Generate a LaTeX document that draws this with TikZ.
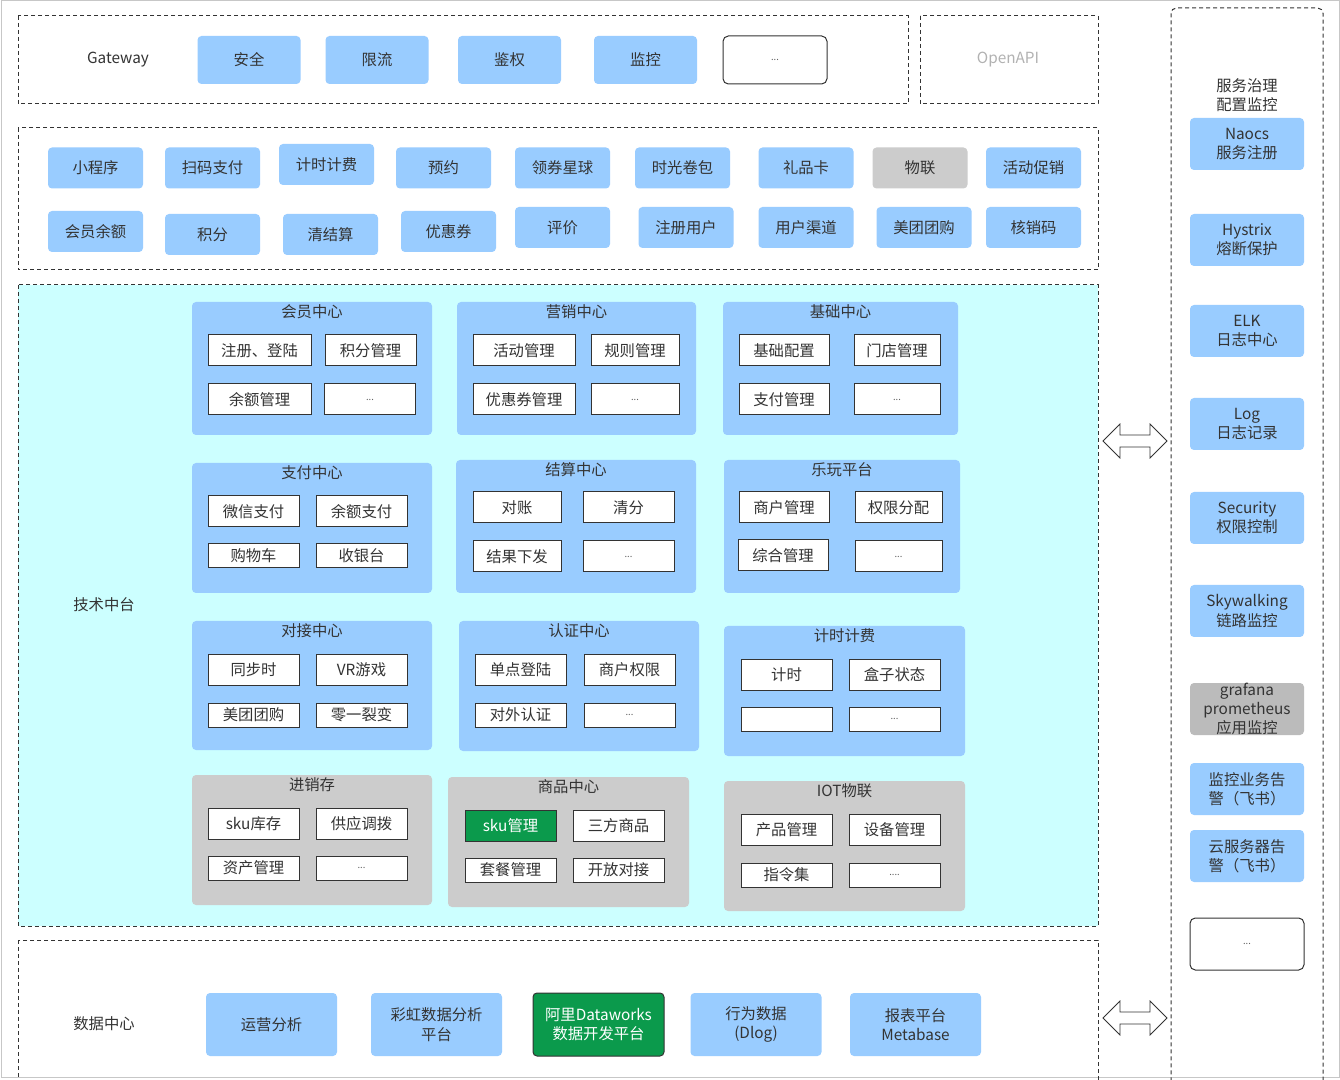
\documentclass[tikz,border=0pt]{standalone}
\usepackage{fontspec}
\setmainfont{Noto Sans CJK SC}
\usepackage{xcolor}
\usetikzlibrary{positioning}
\definecolor{modblue}{HTML}{99CCFF}
\definecolor{techcyan}{HTML}{CCFFFF}
\definecolor{modgray}{HTML}{CCCCCC}
\definecolor{monigray}{HTML}{BBBBBB}
\definecolor{okgreen}{HTML}{0B9A4C}
\definecolor{ink}{HTML}{333333}

\begin{document}
\begin{tikzpicture}[
    x=0.75pt, y=-0.75pt, line width=0.75pt,
    every node/.style={font=\fontsize{11.5}{14.5}\selectfont, text=ink, inner sep=0pt, align=center},
    wh/.style 2 args={minimum width=#1*0.75pt, minimum height=#2*0.75pt},
    frame/.style={draw=ink, dash pattern=on 3pt off 2.25pt},
    svc/.style={fill=modblue, rounded corners=3pt},
    gwsvc/.style={svc, wh={103}{48}},
    topsvc/.style={svc, wh={95}{41}},
    sidesvc/.style={svc, wh={114}{52}},
    datasvc/.style={svc, wh={131}{63}},
    panel/.style={fill=modblue, rounded corners=3pt},
    graypanel/.style={fill=modgray, rounded corners=3pt},
    item/.style={draw=ink, fill=white, wh={91}{31}},
    flatitem/.style={item, wh={91}{24}},
    more/.style={font=\fontsize{7}{8}\selectfont, text=ink!80},
    blank/.style={draw=ink, fill=white, rounded corners=4pt}
]
    \useasboundingbox (0,0) rectangle (1340,1080);
    \clip (0,0) rectangle (1340,1080);
    \fill[white] (0,0) rectangle (1340,1080);
    \draw[black!22] (1,1) rectangle (1339,1077);

    % layers
    \draw[frame] (18,16) rectangle (908,104);
    \draw[frame] (920,16) rectangle (1098,104);
    \draw[frame] (18,128) rectangle (1098,270);
    \draw[frame, fill=techcyan] (18,285) rectangle (1098,926);
    \draw[frame] (18,940) rectangle (1098,1100);
    \draw[frame, rounded corners=4pt] (1171,8) rectangle (1323,1100);

    % gateway
    \node (gateway) at (118,60) {Gateway};
    \node[gwsvc] (safe) at (249,60) {安全};
    \node[gwsvc] (limit) at (377,60) {限流};
    \node[gwsvc] (auth) at (509.5,60) {鉴权};
    \node[gwsvc] (watch) at (645.5,60) {监控};
    \node[blank, wh={104}{48}, more] (gwmore) at (775,60) {...};
    \node[text=black!30] (openapi) at (1008,60) {OpenAPI};

    % business entries
    \node[topsvc] (mini) at (95.5,168) {小程序};
    \node[topsvc] (scanpay) at (212.5,168) {扫码支付};
    \node[topsvc] (timing) at (326.5,164.5) {计时计费};
    \node[topsvc] (booking) at (443.5,168) {预约};
    \node[topsvc] (coupplanet) at (562.5,168) {领券星球};
    \node[topsvc] (timepack) at (682.5,168) {时光卷包};
    \node[topsvc] (giftcard) at (806,168) {礼品卡};
    \node[topsvc, fill=modgray] (iotentry) at (920,168) {物联};
    \node[topsvc] (promo) at (1033.5,168) {活动促销};
    \node[topsvc] (balance) at (95.5,231.5) {会员余额};
    \node[topsvc] (points) at (212.5,234.5) {积分};
    \node[topsvc] (clearing) at (330.5,234.5) {清结算};
    \node[topsvc] (coupon) at (448.5,231.5) {优惠券};
    \node[topsvc] (review) at (562.5,227.5) {评价};
    \node[topsvc] (reguser) at (686,227.5) {注册用户};
    \node[topsvc] (channel) at (806,227.5) {用户渠道};
    \node[topsvc] (meituan) at (924,227.5) {美团团购};
    \node[topsvc] (verify) at (1033.5,227.5) {核销码};

    % tech platform
    \node (tech) at (104,605) {技术中台};

    \node[panel, wh={240}{133}] (member) at (312,368.5) {};
    \node[below=2pt of member.north] (membert) {会员中心};
    \node[item, wh={103}{31}] (login) at (259.5,350.5) {注册、登陆};
    \node[item] (pointsm) at (370.5,350.5) {积分管理};
    \node[item, wh={103}{31}] (balancem) at (259.5,399.5) {余额管理};
    \node[item, more] (membermore) at (370,399.5) {...};

    \node[panel, wh={239}{133}] (market) at (576.5,368.5) {};
    \node[below=2pt of market.north] (markett) {营销中心};
    \node[item, wh={102}{31}] (activity) at (524,350.5) {活动管理};
    \node[item, wh={88}{31}] (rules) at (635,350.5) {规则管理};
    \node[item, wh={102}{31}] (couponm) at (524,399.5) {优惠券管理};
    \node[item, wh={88}{31}, more] (marketmore) at (635,399.5) {...};

    \node[panel, wh={235}{133}] (base) at (840.5,368.5) {};
    \node[below=2pt of base.north] (baset) {基础中心};
    \node[item, wh={90}{31}] (config) at (784,350.5) {基础配置};
    \node[item, wh={86}{31}] (store) at (897,350.5) {门店管理};
    \node[item, wh={90}{31}] (paym) at (784,399.5) {支付管理};
    \node[item, wh={86}{31}, more] (basemore) at (897,399.5) {...};

    \node[panel, wh={240}{130}] (pay) at (312,528) {};
    \node[below=2pt of pay.north] (payt) {支付中心};
    \node[item] (wechat) at (253.5,511.5) {微信支付};
    \node[item] (balpay) at (361.5,511.5) {余额支付};
    \node[flatitem] (cart) at (253.5,556) {购物车};
    \node[flatitem] (cashier) at (361.5,556) {收银台};

    \node[panel, wh={240}{133}] (settle) at (576,526.5) {};
    \node[below=2pt of settle.north] (settlet) {结算中心};
    \node[item, wh={88}{31}] (recon) at (517,507.5) {对账};
    \node[item] (split) at (628.5,507.5) {清分};
    \node[item, wh={88}{31}] (dispatch) at (517,556.5) {结果下发};
    \node[item, more] (settlemore) at (628.5,556.5) {...};

    \node[panel, wh={236}{133}] (play) at (842,526.5) {};
    \node[below=2pt of play.north] (playt) {乐玩平台};
    \node[item, wh={90}{31}] (merchant) at (784,507.5) {商户管理};
    \node[item, wh={87}{31}] (perm) at (898.5,507.5) {权限分配};
    \node[item, wh={90}{31}] (general) at (783,555.5) {综合管理};
    \node[item, wh={87}{31}, more] (playmore) at (898.5,556.5) {...};

    \node[panel, wh={240}{129}] (dock) at (312,685.5) {};
    \node[below=2pt of dock.north] (dockt) {对接中心};
    \node[item] (sync) at (253.5,669.5) {同步时};
    \node[item] (vr) at (361.5,669.5) {VR游戏};
    \node[flatitem] (mtgroup) at (253.5,715) {美团团购};
    \node[flatitem] (fission) at (361.5,715) {零一裂变};

    \node[panel, wh={240}{130}] (cert) at (579,686) {};
    \node[below=2pt of cert.north] (certt) {认证中心};
    \node[item] (sso) at (520.5,669.5) {单点登陆};
    \node[item] (merperm) at (629.5,669.5) {商户权限};
    \node[flatitem] (extauth) at (520.5,715) {对外认证};
    \node[flatitem, more] (certmore) at (629.5,715) {...};

    \node[panel, wh={241}{130}] (billing) at (844.5,691) {};
    \node[below=2pt of billing.north] (billingt) {计时计费};
    \node[item] (timer) at (786.5,674.5) {计时};
    \node[item] (boxstate) at (894.5,674.5) {盒子状态};
    \node[flatitem] (billempty) at (786.5,719) {};
    \node[flatitem, more] (billmore) at (894.5,719) {...};

    \node[graypanel, wh={240}{130}] (stock) at (312,840) {};
    \node[below=2pt of stock.north] (stockt) {进销存};
    \node[item] (skustock) at (253.5,823.5) {sku库存};
    \node[item] (supply) at (361.5,823.5) {供应调拨};
    \node[flatitem] (asset) at (253.5,868) {资产管理};
    \node[flatitem, more] (stockmore) at (361.5,868) {...};

    \node[graypanel, wh={241}{130}] (goods) at (568.5,842) {};
    \node[below=2pt of goods.north] (goodst) {商品中心};
    \node[item, fill=okgreen, text=white] (skum) at (510.5,825.5) {sku管理};
    \node[item] (thirdgoods) at (618.5,825.5) {三方商品};
    \node[flatitem] (combo) at (510.5,870) {套餐管理};
    \node[flatitem] (opendock) at (618.5,870) {开放对接};

    \node[graypanel, wh={241}{130}] (iot) at (844.5,846) {};
    \node[below=2pt of iot.north] (iott) {IOT物联};
    \node[item] (product) at (786.5,829.5) {产品管理};
    \node[item] (device) at (894.5,829.5) {设备管理};
    \node[flatitem] (cmdset) at (786.5,875) {指令集};
    \node[flatitem, more] (iotmore) at (894.5,875) {....};

    % governance column
    \node (gov) at (1247,95) {服务治理\\配置监控};
    \node[sidesvc] (naocs) at (1247,144) {Naocs\\服务注册};
    \node[sidesvc] (hystrix) at (1247,240) {Hystrix\\熔断保护};
    \node[sidesvc] (elk) at (1247,331) {ELK\\日志中心};
    \node[sidesvc] (log) at (1247,424) {Log\\日志记录};
    \node[sidesvc] (security) at (1247,518) {Security\\权限控制};
    \node[sidesvc] (skywalking) at (1247,611) {Skywalking\\链路监控};
    \node[sidesvc, fill=monigray] (grafana) at (1247,709) {};
    \node at (grafana) {grafana\\prometheus\\应用监控};
    \node[sidesvc] (bizalarm) at (1247,789) {监控业务告\\警（飞书）};
    \node[sidesvc] (cloudalarm) at (1247,856) {云服务器告\\警（飞书）};
    \node[blank, wh={114}{52}, more] (govmore) at (1247,944) {...};

    % data center
    \node (datac) at (104,1024) {数据中心};
    \node[datasvc] (ops) at (271.5,1024.5) {运营分析};
    \node[datasvc] (rainbow) at (436.5,1024.5) {彩虹数据分析\\平台};
    \node[datasvc, fill=okgreen, draw=ink, text=white] (dataworks) at (598.5,1024.5) {阿里Dataworks\\数据开发平台};
    \node[datasvc] (dlog) at (756,1024.5) {行为数据\\(Dlog)};
    \node[datasvc] (metabase) at (915.5,1024.5) {报表平台\\Metabase};

    % two-way exchange with governance
    \foreach \y in {441,1018}
        \draw[ink, fill=white, line width=0.6pt] (1103,\y) -- ++(17,-17) -- ++(0,11) -- ++(30,0) -- ++(0,-11)
            -- ++(17,17) -- ++(-17,17) -- ++(0,-11) -- ++(-30,0) -- ++(0,11) -- cycle;
\end{tikzpicture}
\end{document}
